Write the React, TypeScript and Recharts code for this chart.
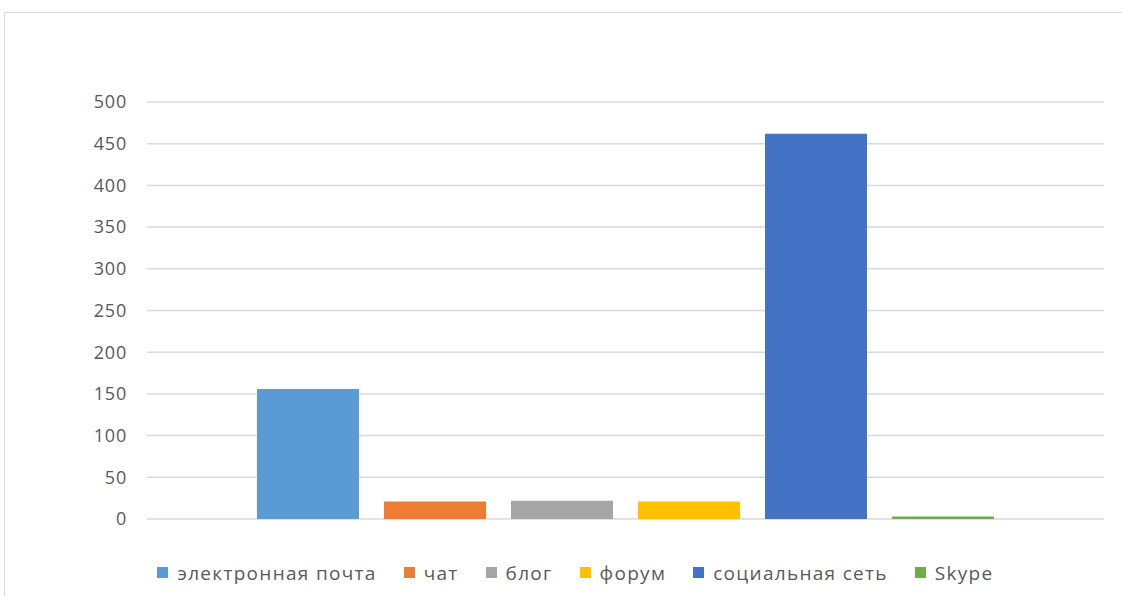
import React from "react";
import { BarChart, Bar, XAxis, YAxis, CartesianGrid, Legend } from "recharts";

const categories = [""];
const seriesNames = ["электронная почта", "чат", "блог", "форум", "социальная сеть", "Skype"];
const seriesKeys = ["email", "chat", "blog", "forum", "social", "skype"];
const seriesValues = [156, 21, 22, 21, 462, 3];
const seriesColors = ["#5B9BD5", "#ED7D31", "#A5A5A5", "#FFC000", "#4472C4", "#70AD47"];
const yTicks = [0, 50, 100, 150, 200, 250, 300, 350, 400, 450, 500];

const data = categories.map((name) => {
  const row: Record<string, string | number> = { name };
  seriesKeys.forEach((k, i) => {
    row[k] = seriesValues[i];
  });
  return row;
});

const FONT = '"Open Sans", "DejaVu Sans", sans-serif';

// legend keeps the series order (recharts would sort it otherwise)
function LegendContent() {
  return (
    <div
      style={{
        height: 77,
        paddingTop: 30,
        boxSizing: "border-box",
        display: "flex",
        justifyContent: "center",
        marginLeft: 74,
        fontFamily: FONT,
        fontSize: 19,
        letterSpacing: 1.3,
        color: "#595959",
      }}
    >
      {seriesNames.map((name, i) => (
        <div
          key={name}
          style={{ display: "flex", alignItems: "center", marginRight: 27, lineHeight: "22px" }}
        >
          <span
            style={{ width: 11, height: 11, background: seriesColors[i], marginRight: 9, display: "inline-block" }}
          />
          {name}
        </div>
      ))}
    </div>
  );
}

export default function App() {
  return (
    <div style={{ position: "absolute", left: 0, top: 0, width: 1122, height: 596, background: "#fff", overflow: "hidden" }}>
      <div
        style={{
          position: "absolute",
          left: 4,
          top: 12,
          width: 1140,
          height: 620,
          border: "1px solid #d9d9d9",
        }}
      />
      <div style={{ position: "absolute", left: 0, top: 0 }}>
        <BarChart
          width={1122}
          height={596}
          data={data}
          margin={{ top: 102, right: 18, bottom: 0, left: 0 }}
          barCategoryGap={110}
          barGap={25}
        >
          <CartesianGrid vertical={false} stroke="#d9d9d9" strokeWidth={1.5} />
          <XAxis dataKey="name" hide />
          <YAxis
            width={147}
            domain={[0, 500]}
            ticks={yTicks}
            axisLine={false}
            tickLine={false}
            tickSize={0}
            tickMargin={20}
            tick={{ fill: "#595959", fontSize: 18, fontFamily: FONT, letterSpacing: 0.8 }}
          />
          <Legend verticalAlign="bottom" content={<LegendContent />} />
          {seriesKeys.map((k, i) => (
            <Bar
              key={k}
              dataKey={k}
              name={seriesNames[i]}
              fill={seriesColors[i]}
              isAnimationActive={false}
            />
          ))}
        </BarChart>
      </div>
    </div>
  );
}
